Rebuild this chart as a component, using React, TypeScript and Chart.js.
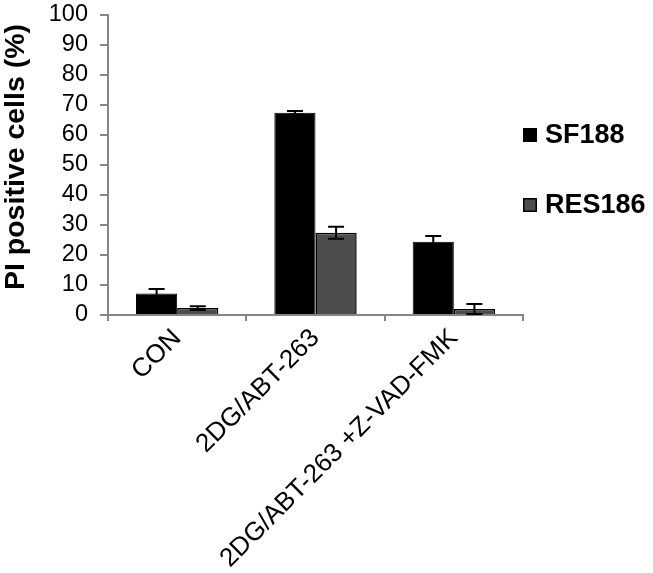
import React, { useEffect, useRef } from "react";
import { Chart, registerables } from "chart.js";

Chart.register(...registerables);

const categories = ["CON", "2DG/ABT-263", "2DG/ABT-263 +Z-VAD-FMK"];
const seriesNames = ["SF188", "RES186"];
const sf188Values = [7.2, 67.4, 24.4];
const sf188Errors = [1.5, 0.6, 1.9];
const res186Values = [2.3, 27.4, 2.0];
const res186Errors = [0.6, 2.0, 1.7];
const yTitle = "PI positive cells (%)";

const FONT = '"Liberation Sans", Arial, sans-serif';
const AXIS_COLOR = "#868686";

const errorBarPlugin = {
  id: "errorBars",
  afterDatasetsDraw(chart: any) {
    const ctx = chart.ctx;
    const y = chart.scales.y;
    ctx.save();
    ctx.strokeStyle = "#000";
    ctx.lineWidth = 2;
    chart.data.datasets.forEach((ds: any, i: number) => {
      const meta = chart.getDatasetMeta(i);
      meta.data.forEach((bar: any, j: number) => {
        const v = ds.data[j];
        const e = ds.errors[j];
        const yTop = y.getPixelForValue(v + e);
        const yBot = y.getPixelForValue(Math.max(0, v - e));
        const x = bar.x;
        const half = 8;
        ctx.beginPath();
        ctx.moveTo(x, yTop);
        ctx.lineTo(x, yBot);
        ctx.moveTo(x - half, yTop);
        ctx.lineTo(x + half, yTop);
        ctx.moveTo(x - half, yBot);
        ctx.lineTo(x + half, yBot);
        ctx.stroke();
      });
    });
    ctx.restore();
  },
};

const extrasPlugin = {
  id: "extras",
  afterDraw(chart: any) {
    const ctx = chart.ctx;
    ctx.save();
    ctx.translate(16, 157);
    ctx.rotate(-Math.PI / 2);
    ctx.font = `bold 28.5px ${FONT}`;
    ctx.fillStyle = "#000";
    ctx.textAlign = "center";
    ctx.textBaseline = "middle";
    ctx.fillText(yTitle, 0, 0);
    ctx.restore();

    const ys = chart.scales.y;
    ctx.save();
    ctx.strokeStyle = AXIS_COLOR;
    ctx.lineWidth = 2;
    ys.ticks.forEach((_t: any, i: number) => {
      const py = ys.getPixelForTick(i);
      ctx.beginPath();
      ctx.moveTo(ys.right - 8, py);
      ctx.lineTo(ys.right, py);
      ctx.stroke();
    });
    ctx.restore();

    ctx.save();
    const ly = [135, 205];
    chart.data.datasets.forEach((ds: any, i: number) => {
      const cy = ly[i];
      ctx.fillStyle = ds.backgroundColor;
      ctx.fillRect(523, cy - 7, 14, 14);
      ctx.strokeStyle = "#000";
      ctx.lineWidth = 1.5;
      ctx.strokeRect(523.75, cy - 6.25, 12.5, 12.5);
      ctx.fillStyle = "#000";
      ctx.font = `bold 27px ${FONT}`;
      ctx.textAlign = "left";
      ctx.textBaseline = "middle";
      ctx.fillText(ds.label, 545, cy + 1);
    });
    ctx.restore();
  },
};

export default function App() {
  const ref = useRef<HTMLCanvasElement | null>(null);

  useEffect(() => {
    if (!ref.current) return;
    const chart = new Chart(ref.current, {
      type: "bar",
      data: {
        labels: categories,
        datasets: [
          {
            label: seriesNames[0],
            data: sf188Values,
            errors: sf188Errors,
            backgroundColor: "#000000",
            borderColor: "#000000",
            borderWidth: 1,
          } as any,
          {
            label: seriesNames[1],
            data: res186Values,
            errors: res186Errors,
            backgroundColor: "#4d4d4d",
            borderColor: "#000000",
            borderWidth: 1.5,
          } as any,
        ],
      },
      options: {
        animation: false,
        responsive: true,
        maintainAspectRatio: false,
        layout: { padding: { top: 15, right: 130, left: 0, bottom: 0 } },
        datasets: {
          bar: { categoryPercentage: 0.595, barPercentage: 1 },
        },
        plugins: {
          legend: { display: false },
          tooltip: { enabled: false },
        },
        scales: {
          x: {
            afterFit: (scale: any) => {
              scale.height = 258;
            },
            grid: {
              display: true,
              drawOnChartArea: false,
              offset: true,
              color: AXIS_COLOR,
              lineWidth: 2,
              tickLength: 6,
            },
            border: { color: AXIS_COLOR, width: 2 },
            ticks: {
              color: "#000",
              font: { family: FONT, size: 26 },
              minRotation: 45,
              maxRotation: 45,
              autoSkip: false,
              padding: 2,
            },
          },
          y: {
            min: 0,
            max: 100,
            afterFit: (scale: any) => {
              scale.width = 108;
              scale.paddingTop = 0;
              scale.paddingBottom = 0;
            },
            grid: {
              display: true,
              drawOnChartArea: false,
              color: AXIS_COLOR,
              lineWidth: 2,
              tickLength: 8,
            },
            border: { color: AXIS_COLOR, width: 2 },
            ticks: {
              stepSize: 10,
              autoSkip: false,
              color: "#000",
              font: { family: FONT, size: 23.5 },
              padding: 12,
            },
          },
        },
      },
      plugins: [errorBarPlugin, extrasPlugin],
    });
    return () => chart.destroy();
  }, []);

  return (
    <div style={{ position: "absolute", left: 0, top: 0, width: 653, height: 573 }}>
      <canvas ref={ref} />
    </div>
  );
}
